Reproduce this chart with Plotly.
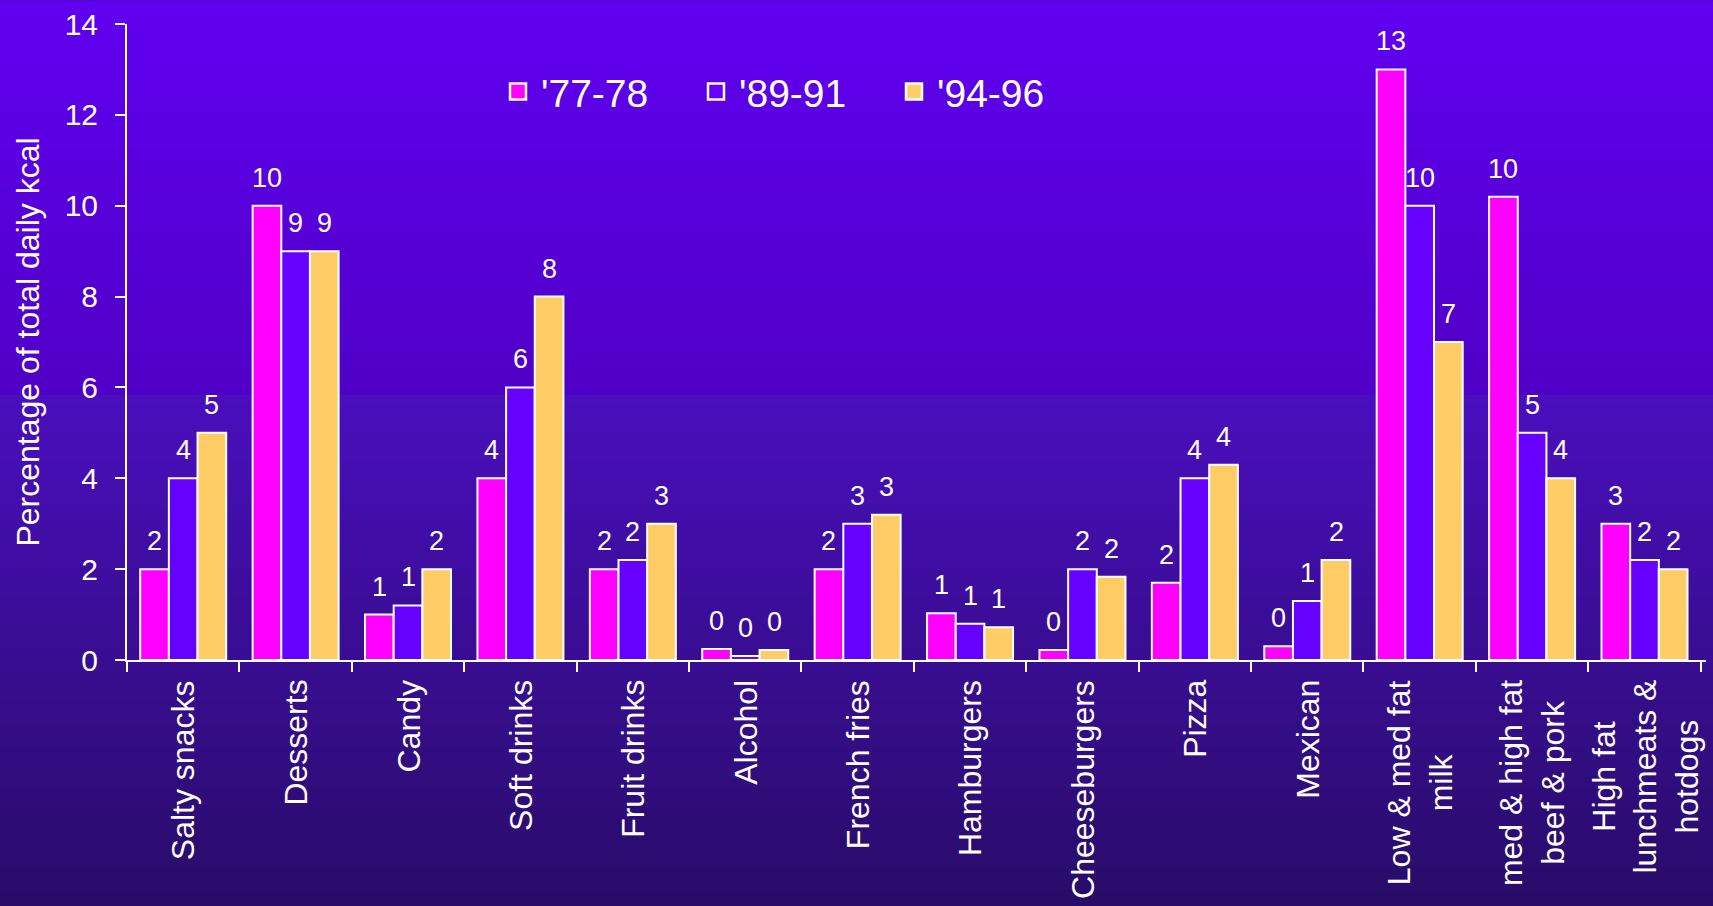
import base64
import struct
import zlib
import plotly.graph_objects as go

# ---------------- data ----------------
categories = ["Salty snacks", "Desserts", "Candy", "Soft drinks", "Fruit drinks", "Alcohol",
              "French fries", "Hamburgers", "Cheeseburgers", "Pizza", "Mexican",
              "Low & med fat<br>milk", "med & high fat<br>beef & pork",
              "High fat<br>lunchmeats &<br>hotdogs"]
series_names = ["'77-78", "'89-91", "'94-96"]
v_77_78 = [2, 10, 1, 4, 2, 0.24, 2, 1.03, 0.22, 1.7, 0.3, 13, 10.2, 3]
v_89_91 = [4, 9, 1.2, 6, 2.2, 0.09, 3, 0.8, 2, 4, 1.3, 10, 5, 2.2]
v_94_96 = [5, 9, 2, 8, 3, 0.22, 3.2, 0.72, 1.83, 4.3, 2.2, 7, 4, 2]
y_tick_values = [0, 2, 4, 6, 8, 10, 12, 14]
y_title = "Percentage of total daily kcal"

series_values = [v_77_78, v_89_91, v_94_96]
colors = ["#FF00FF", "#6600FF", "#FFCC66"]

# ---------------- layout geometry ----------------
W, H = 1713, 906
ML, MR, MT, MB = 127, 7, 20, 246
PW, PH = W - ML - MR, H - MT - MB
BARGAP = 0.235
FONT = "Liberation Sans, Arial, sans-serif"
bar_px = PW / len(categories) * (1 - BARGAP) / len(series_values)
BLEED = 3  # extra background pixels around the figure edge


# ---------------- background gradient (PNG) ----------------
def lerp(a, b, t):
    return tuple(int(round(a[i] + (b[i] - a[i]) * t)) for i in range(3))


def gradient_rows():
    rows = []
    split = 392
    for yy in range(-BLEED, H + BLEED):
        y = min(max(yy, 0), H - 1)
        if y <= split:
            rows.append(lerp((96, 0, 240), (80, 0, 198), y / split))
        else:
            rows.append(lerp((74, 14, 190), (40, 12, 104), (y - split) / (H - split)))
    return rows


def png_uri(rows, w=4):
    raw = b"".join(b"\x00" + bytes(list(c) * w) for c in rows)

    def chunk(t, d):
        return struct.pack(">I", len(d)) + t + d + struct.pack(">I", zlib.crc32(t + d) & 0xffffffff)

    png = (b"\x89PNG\r\n\x1a\n"
           + chunk(b"IHDR", struct.pack(">IIBBBBB", w, len(rows), 8, 2, 0, 0, 0))
           + chunk(b"IDAT", zlib.compress(raw))
           + chunk(b"IEND", b""))
    return "data:image/png;base64," + base64.b64encode(png).decode()


fig = go.Figure()

for name, vals, col in zip(series_names, series_values, colors):
    fig.add_trace(go.Bar(
        x=categories, y=vals, name=name, showlegend=False,
        marker=dict(color=col, line=dict(color="white", width=2)),
    ))
    # legend proxy
    fig.add_trace(go.Scatter(
        x=[None], y=[None], mode="markers", name=name,
        marker=dict(symbol="square", size=16, color=col, line=dict(color="white", width=2.5)),
    ))

annotations = []
# value labels
for i, vals in enumerate(series_values):
    for c, v in zip(categories, vals):
        annotations.append(dict(
            x=c, y=v, xref="x", yref="y", text=f"{v:.0f}", showarrow=False,
            xanchor="center", yanchor="bottom", xshift=(i - 1) * bar_px, yshift=11,
            font=dict(family=FONT, size=27, color="white"),
        ))
# category labels
for c in categories:
    annotations.append(dict(
        x=c, y=0, xref="x", yref="y", text=c, showarrow=False, textangle=-90,
        xanchor="center", yanchor="top", yshift=-18, align="center",
        font=dict(family=FONT, size=32, color="white"),
    ))

fig.update_layout(
    width=W, height=H,
    margin=dict(l=ML, r=MR, t=MT, b=MB, pad=0),
    paper_bgcolor="#4a0ec0",
    plot_bgcolor="rgba(0,0,0,0)",
    barmode="group", bargap=BARGAP, bargroupgap=0,
    font=dict(family=FONT, color="white"),
    images=[dict(
        source=png_uri(gradient_rows()), xref="paper", yref="paper",
        x=-(ML + BLEED) / PW, y=1 + (MT + BLEED) / PH,
        sizex=(W + 2 * BLEED) / PW, sizey=(H + 2 * BLEED) / PH,
        xanchor="left", yanchor="top", sizing="stretch", layer="below",
    )],
    legend=dict(
        orientation="h", x=(495 - ML) / PW, y=(MT + PH - 88) / PH,
        xanchor="left", yanchor="middle", bgcolor="rgba(0,0,0,0)",
        font=dict(family=FONT, size=39, color="white"),
        itemwidth=36, entrywidth=147, entrywidthmode="pixels", itemclick=False,
    ),
    xaxis=dict(
        type="category", showticklabels=False, tickson="boundaries",
        ticks="outside", ticklen=10, tickwidth=2, tickcolor="white",
        showline=True, linecolor="white", linewidth=2, showgrid=False, zeroline=False,
    ),
    yaxis=dict(
        range=[0, 14], tickvals=y_tick_values, ticks="outside", ticklen=10, tickwidth=2,
        tickcolor="white", showline=True, linecolor="white", linewidth=2,
        showgrid=False, zeroline=False, ticklabelstandoff=11,
        tickfont=dict(family=FONT, size=30, color="white"),
        title=dict(text=y_title, standoff=15, font=dict(family=FONT, size=32, color="white")),
    ),
    annotations=annotations,
)

fig.write_html(
    "out.html",
    config={"displayModeBar": False},
    post_script="document.documentElement.style.margin='0';document.body.style.margin='0';"
                "document.body.style.overflow='hidden';document.body.style.background='#6000f0';",
)
